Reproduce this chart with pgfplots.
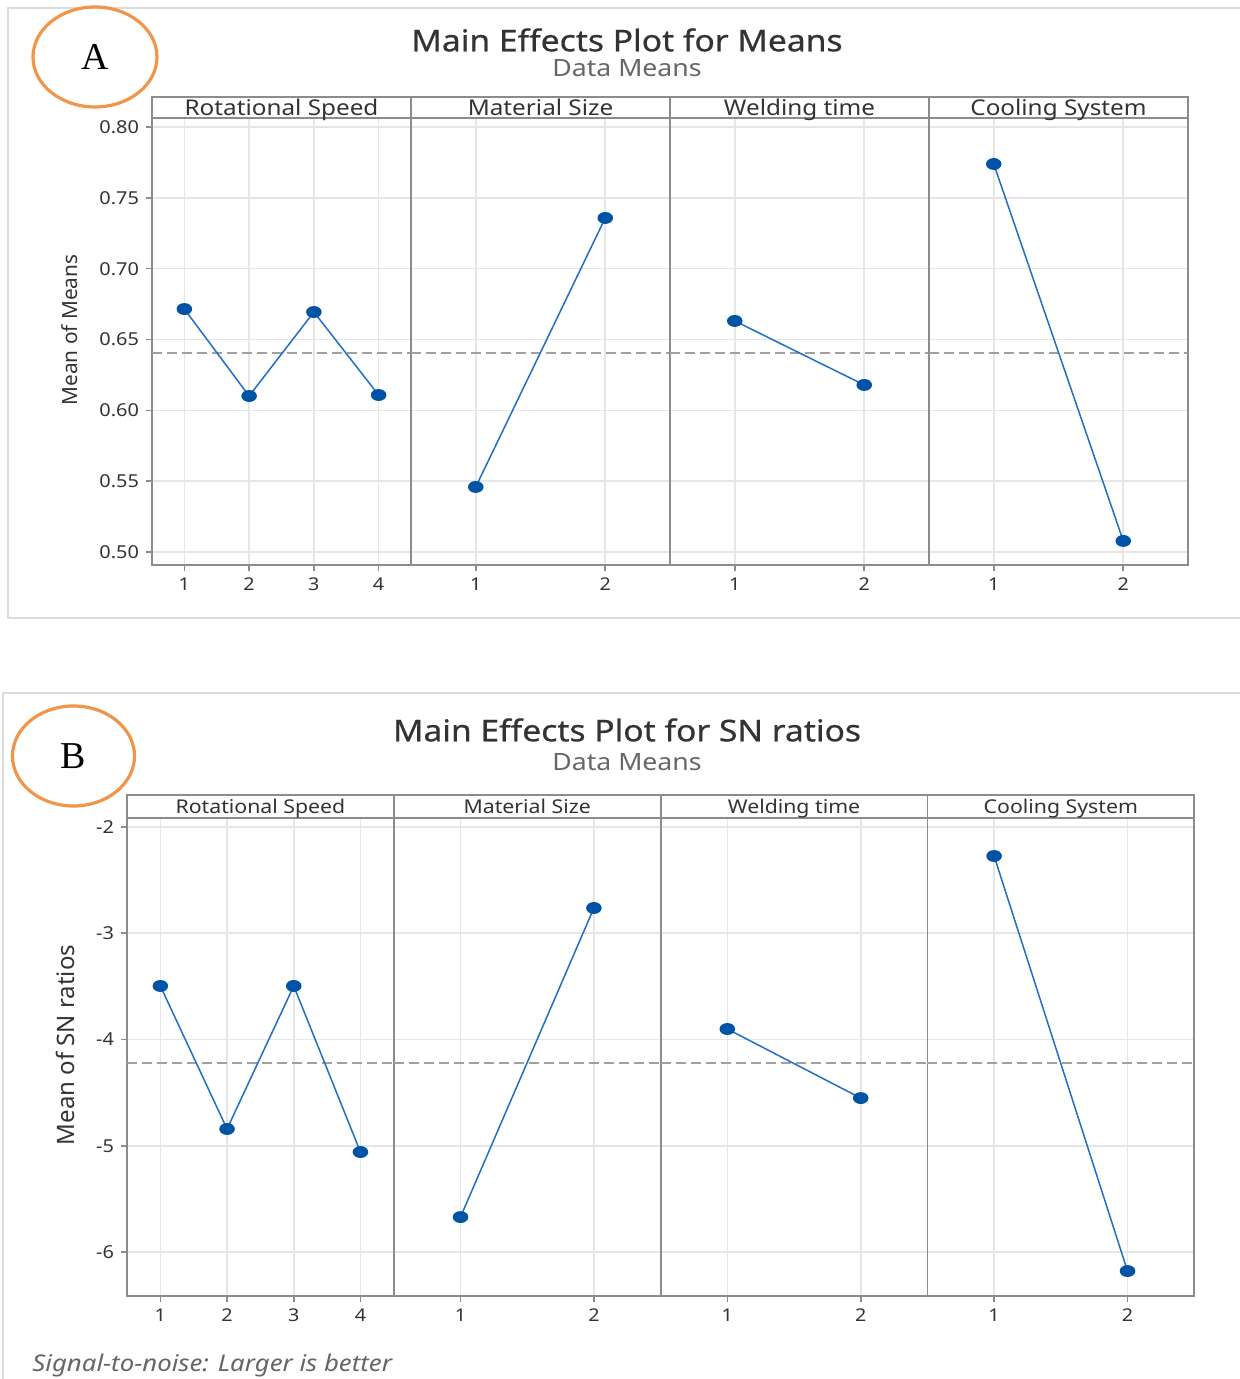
\documentclass[border=0pt]{standalone}
\usepackage{pgfplots}
\pgfplotsset{compat=1.18}
\usepackage{fontspec}
\setmainfont{Noto Sans}
\newfontfamily\wide[FakeStretch=1.12]{Noto Sans}
\newfontfamily\widetitle[FakeStretch=1.12,FakeBold=0.6]{Noto Sans}
\newfontfamily\timesf{Liberation Serif}
\definecolor{axgray}{HTML}{8C8C8C}
\definecolor{gridgray}{HTML}{E6E6E6}
\definecolor{txtgray}{HTML}{333333}
\definecolor{subgray}{HTML}{666666}
\definecolor{markblue}{HTML}{0054A6}
\definecolor{lineblue}{HTML}{1F6FC5}
\definecolor{orng}{HTML}{F0954A}
\definecolor{framegray}{HTML}{DCDCDC}
\definecolor{refgray}{HTML}{A0A0A0}

\pgfplotsset{
  mep/.style={
    scale only axis, anchor=north west, clip=false,
    axis line style={draw=axgray, line width=0.9pt},
    grid=major, major grid style={draw=gridgray, line width=0.8pt},
    tick align=outside, xtick pos=lower, ytick pos=left,
    major tick length=3pt,
    tick style={draw=axgray, line width=0.8pt},
    tick label style={text=txtgray},
    x tick label style={font=\wide\fontsize{8.8}{9}\selectfont},
    y tick label style={font=\wide\fontsize{8.9}{10}\selectfont},
  },
  mepA/.style={mep, width=129.5pt, height=223.5pt, ymin=0.4908, ymax=0.8064,
    ytick={0.50,0.55,0.60,0.65,0.70,0.75,0.80}},
  mepB/.style={mep, width=133.4pt, height=239pt, ymin=-6.414, ymax=-1.915,
    ytick={-6,-5,-4,-3,-2}},
  four/.style={xmin=0.5, xmax=4.5, xtick={1,2,3,4}, xticklabels={1,2,3,4}},
  two/.style={xmin=0.5, xmax=2.5, xtick={1,2}, xticklabels={1,2}},
  noy/.style={yticklabels={}, ytick style={draw=none}},
  ser/.style={lineblue, line width=0.75pt, mark=*, mark size=2.6pt,
    mark options={fill=markblue, draw=markblue, xscale=1.35, solid}},
  refl/.style={refgray, line width=0.7pt, dash pattern=on 5pt off 2.5pt},
}
% #1 axis name, #2 strip height, #3 font size, #4 baseline offset
\newcommand{\strip}[4]{%
  \draw[axgray, line width=0.9pt] (#1.north west) rectangle ([yshift=#2]#1.north east);
  \node[anchor=base, text=txtgray, inner sep=0pt, font=\wide\fontsize{#3}{#3}\selectfont] at ([yshift=#4]#1.north)}

\begin{document}
\begin{tikzpicture}
\useasboundingbox (0,0) rectangle (619.5pt,689.5pt);
% frames
\draw[framegray, line width=0.8pt] (4pt,380.5pt) rectangle (622pt,685.5pt);
\draw[framegray, line width=0.8pt] (1.5pt,-3pt) rectangle (622pt,343pt);

% ---------------- Panel A ----------------
\node[text=txtgray, font=\widetitle\fontsize{15}{16}\selectfont] at (313.5pt,669.5pt) {Main Effects Plot for Means};
\node[text=subgray, font=\wide\fontsize{11.9}{12}\selectfont] at (313.5pt,655.5pt) {Data Means};
\node[rotate=90, text=txtgray, font=\fontsize{10.4}{12}\selectfont] at (35pt,524.5pt) {Mean of Means};

\begin{axis}[mepA, four, name=A1, at={(76pt,630.5pt)},
  yticklabels={0.50,0.55,0.60,0.65,0.70,0.75,0.80}]
\addplot[refl] coordinates {(0.5,0.6405) (4.5,0.6405)};
\addplot[ser] coordinates {(1,0.6715) (2,0.6101) (3,0.6694) (4,0.6108)};
\end{axis}
\begin{axis}[mepA, two, noy, name=A2, at={(205.5pt,630.5pt)}]
\addplot[refl] coordinates {(0.5,0.6405) (2.5,0.6405)};
\addplot[ser] coordinates {(1,0.5459) (2,0.7358)};
\end{axis}
\begin{axis}[mepA, two, noy, name=A3, at={(335pt,630.5pt)}]
\addplot[refl] coordinates {(0.5,0.6405) (2.5,0.6405)};
\addplot[ser] coordinates {(1,0.6631) (2,0.6179)};
\end{axis}
\begin{axis}[mepA, two, noy, name=A4, at={(464.5pt,630.5pt)}]
\addplot[refl] coordinates {(0.5,0.6405) (2.5,0.6405)};
\addplot[ser] coordinates {(1,0.7739) (2,0.5078)};
\end{axis}
\strip{A1}{10.5pt}{10.85}{1.3pt}{Rotational Speed};
\strip{A2}{10.5pt}{10.85}{1.3pt}{Material Size};
\strip{A3}{10.5pt}{10.85}{1.3pt}{Welding time};
\strip{A4}{10.5pt}{10.85}{1.3pt}{Cooling System};

\draw[orng, line width=1.6pt] (47.5pt,661pt) ellipse (31pt and 25pt);
\node[font=\timesf\fontsize{19}{20}\selectfont] at (47.5pt,661pt) {A};

% ---------------- Panel B ----------------
\node[text=txtgray, font=\widetitle\fontsize{15}{16}\selectfont] at (313.5pt,324.5pt) {Main Effects Plot for SN ratios};
\node[text=subgray, font=\wide\fontsize{11.9}{12}\selectfont] at (313.5pt,308.5pt) {Data Means};
\node[rotate=90, text=txtgray, font=\fontsize{12}{13}\selectfont] at (32.5pt,167pt) {Mean of SN ratios};

\begin{axis}[mepB, four, name=B1, at={(63.5pt,280.5pt)},
  yticklabels={-6,-5,-4,-3,-2}]
\addplot[refl] coordinates {(0.5,-4.221) (4.5,-4.221)};
\addplot[ser] coordinates {(1,-3.496) (2,-4.842) (3,-3.496) (4,-5.059)};
\end{axis}
\begin{axis}[mepB, two, noy, name=B2, at={(196.9pt,280.5pt)}]
\addplot[refl] coordinates {(0.5,-4.221) (2.5,-4.221)};
\addplot[ser] coordinates {(1,-5.671) (2,-2.762)};
\end{axis}
\begin{axis}[mepB, two, noy, name=B3, at={(330.3pt,280.5pt)}]
\addplot[refl] coordinates {(0.5,-4.221) (2.5,-4.221)};
\addplot[ser] coordinates {(1,-3.901) (2,-4.551)};
\end{axis}
\begin{axis}[mepB, two, noy, name=B4, at={(463.7pt,280.5pt)}]
\addplot[refl] coordinates {(0.5,-4.221) (2.5,-4.221)};
\addplot[ser] coordinates {(1,-2.273) (2,-6.179)};
\end{axis}
\strip{B1}{11.5pt}{9.5}{2pt}{Rotational Speed};
\strip{B2}{11.5pt}{9.5}{2pt}{Material Size};
\strip{B3}{11.5pt}{9.5}{2pt}{Welding time};
\strip{B4}{11.5pt}{9.5}{2pt}{Cooling System};

\draw[orng, line width=1.6pt] (36.75pt,311.5pt) ellipse (30.5pt and 25pt);
\node[font=\timesf\fontsize{19}{20}\selectfont] at (36.75pt,311.5pt) {B};

\node[anchor=base west, inner sep=0pt, text=subgray, font=\wide\itshape\fontsize{11.5}{12}\selectfont] at (16pt,4pt) {Signal-to-noise: Larger is better};
\end{tikzpicture}
\end{document}
